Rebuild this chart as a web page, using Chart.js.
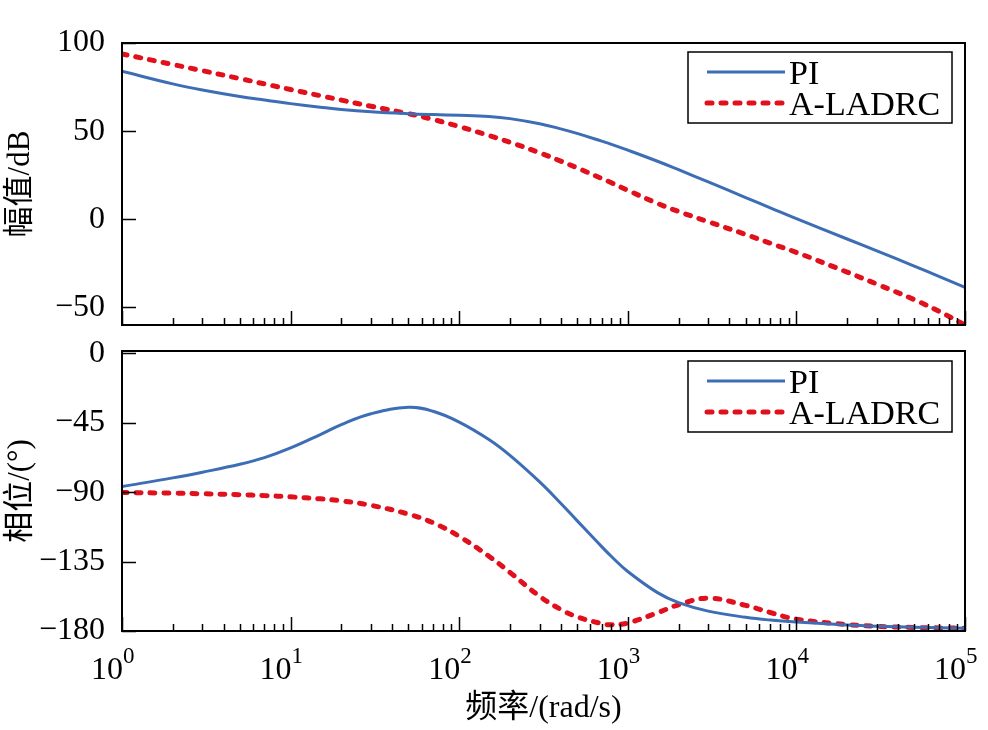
<!DOCTYPE html>
<html lang="zh">
<head>
    <meta charset="UTF-8">
    <title>Bode 图</title>
    <script src="https://cdn.jsdelivr.net/npm/chart.js"></script>
    <style>
        body { margin: 0; background: #fff; }
        #wrap { position: relative; width: 988px; height: 730px; }
        canvas { position: absolute; left: 0; }
        #magChart { top: 0; }
        #phaseChart { top: 340px; }
    </style>
</head>
<body>
<div id="wrap">
    <canvas id="magChart" width="988" height="340"></canvas>
    <canvas id="phaseChart" width="988" height="390"></canvas>
</div>
<script>
// 频率 (rad/s)
const freq = [1, 2, 3, 5, 7, 10, 15, 20, 30, 50, 70, 100, 150, 200, 300, 400, 500, 700, 800,
              1000, 1500, 2000, 3000, 5000, 7000, 1e4, 2e4, 3e4, 5e4, 7e4, 1e5];

// 幅值 dB
const magPI = [84, 76.8, 73.3, 69.6, 67.6, 65.6, 63.6, 62.3, 61, 59.9, 59.4, 59, 58.3, 57.1, 54.2, 51.3, 48.7, 44.3, 42.5,
               39.2, 32.9, 28.1, 21.2, 12.3, 6.5, 0.3, -11.2, -17.9, -26.6, -32.4, -38.6];
const magLADRC = [93.8, 87.8, 84.3, 79.8, 76.8, 73.6, 70.1, 67.6, 64.1, 59.9, 56.6, 52.6, 47.5, 43.7, 37.7, 33, 29.2, 23.1, 20.7,
                  16.4, 9, 4.4, -1.4, -8.6, -13.6, -18.8, -30, -36.8, -45.6, -52.2, -60];

// 相位 (°)
const phPI = [-86.3, -80.7, -77, -71.9, -67.6, -61.3, -52.6, -46.1, -39.1, -34.9, -37.5, -44.5, -55.8, -66.1, -83.3, -97.1, -108.4, -125.3, -131.7,
              -141.4, -155.1, -161.6, -167.1, -171.1, -172.9, -174.2, -176.1, -176.9, -177.6, -177.9, -178.2];
const phLADRC = [-90.2, -90.6, -91, -91.6, -92.2, -93, -94.3, -95.6, -98.5, -104.2, -109.8, -118.6, -131.5, -142, -157.5, -166, -170.8, -175.2, -176,
                 -174.8, -168.2, -163, -158.7, -163.4, -168, -172.3, -175.8, -177, -177.7, -178, -178.2];

const magTicks = [-50, 0, 50, 100];
const phTicks = [-180, -135, -90, -45, 0];
const decades = [0, 1, 2, 3, 4, 5];

const SERIF = "'Liberation Serif', 'Noto Sans CJK SC', serif";
const BLUE = '#3c6db5';
const RED = '#e0101c';

function pts(vals) {
    return freq.map((f, i) => ({ x: f, y: vals[i] }));
}

function minus(v) {
    return v < 0 ? '\u2212' + Math.abs(v) : String(v);
}

// 框线、向内刻度、图例、x 轴 10^n 标签
const bodeDeco = {
    id: 'bodeDeco',
    afterDraw(chart, args, opts) {
        const { ctx, chartArea: a, scales: { x, y } } = chart;
        ctx.save();
        ctx.strokeStyle = '#000';
        ctx.lineWidth = 1.5;
        ctx.beginPath();
        x.ticks.forEach(t => {
            const px = Math.round(x.getPixelForValue(t.value)) + 0.5;
            const lg = Math.log10(t.value);
            const len = Math.abs(lg - Math.round(lg)) < 1e-9 ? 14 : 7;
            ctx.moveTo(px, a.bottom);
            ctx.lineTo(px, a.bottom - len);
        });
        y.ticks.forEach(t => {
            const py = Math.round(y.getPixelForValue(t.value)) + 0.5;
            ctx.moveTo(a.left, py);
            ctx.lineTo(a.left + 14, py);
        });
        ctx.stroke();
        ctx.lineWidth = 2;
        ctx.strokeRect(a.left, a.top, a.right - a.left, a.bottom - a.top);

        // 图例
        const lx = a.right - 277, ly = a.top + opts.legendTop;
        ctx.fillStyle = '#fff';
        ctx.fillRect(lx, ly, 264, 71);
        ctx.lineWidth = 1.5;
        ctx.strokeRect(lx, ly, 264, 71);
        ctx.font = '34px ' + SERIF;
        ctx.textBaseline = 'alphabetic';
        chart.data.datasets.forEach((ds, i) => {
            const yy = ly + 20 + i * 31;
            ctx.save();
            ctx.strokeStyle = ds.borderColor;
            ctx.lineWidth = ds.borderWidth;
            ctx.lineCap = ds.borderCapStyle || 'butt';
            ctx.setLineDash(ds.borderDash || []);
            ctx.beginPath();
            ctx.moveTo(lx + 19, yy);
            ctx.lineTo(lx + 97, yy);
            ctx.stroke();
            ctx.restore();
            ctx.fillStyle = '#000';
            ctx.fillText(ds.label, lx + 101, yy + 12);
        });

        if (opts.xLabels) {
            ctx.fillStyle = '#000';
            decades.forEach(k => {
                const px = x.getPixelForValue(Math.pow(10, k));
                ctx.font = '32px ' + SERIF;
                const w = ctx.measureText('10').width;
                ctx.fillText('10', px - w + 1, a.bottom + 48);
                ctx.font = '23px ' + SERIF;
                ctx.fillText(String(k), px + 1, a.bottom + 32);
            });
        }
        ctx.restore();
    }
};

function logTicks(scale) {
    const t = [];
    for (let k = 0; k < 5; k++) {
        for (let m = 1; m < 10; m++) t.push({ value: m * Math.pow(10, k) });
    }
    t.push({ value: 1e5 });
    scale.ticks = t;
}

function makeChart(id, series, yOpts, deco) {
    return new Chart(document.getElementById(id), {
        type: 'line',
        data: {
            datasets: [{
                label: 'PI',
                data: pts(series[0]),
                borderColor: BLUE,
                borderWidth: 3,
                pointRadius: 0,
                tension: 0.4
            }, {
                label: 'A-LADRC',
                data: pts(series[1]),
                borderColor: RED,
                borderWidth: 5,
                borderDash: [5, 9],
                borderCapStyle: 'round',
                pointRadius: 0,
                tension: 0.4
            }]
        },
        options: {
            responsive: false,
            animation: false,
            devicePixelRatio: 1,
            layout: { padding: deco.padding },
            plugins: {
                legend: { display: false },
                tooltip: { enabled: false },
                bodeDeco: deco
            },
            scales: {
                x: {
                    type: 'logarithmic',
                    min: 1,
                    max: 1e5,
                    grid: { display: false },
                    border: { display: false },
                    ticks: { display: false },
                    afterBuildTicks: logTicks,
                    afterFit: s => {
                        s.height = deco.xHeight;
                        s.paddingLeft = 0;
                        s.paddingRight = 0;
                    },
                    title: {
                        display: deco.xLabels,
                        text: '频率/(rad/s)',
                        color: '#000',
                        font: { family: SERIF, size: 32 },
                        padding: { top: 0, bottom: 2 }
                    }
                },
                y: {
                    min: yOpts.min,
                    max: yOpts.max,
                    grid: { display: false },
                    border: { display: false },
                    afterBuildTicks: s => { s.ticks = yOpts.ticks.map(v => ({ value: v })); },
                    afterFit: s => {
                        s.width = 122;
                        s.paddingTop = 0;
                        s.paddingBottom = 0;
                    },
                    ticks: {
                        color: '#000',
                        padding: 9,
                        font: { family: SERIF, size: 32 },
                        callback: v => minus(v)
                    },
                    title: {
                        display: true,
                        text: yOpts.title,
                        color: '#000',
                        font: { family: SERIF, size: 31 },
                        padding: { top: 2, bottom: 0 }
                    }
                }
            }
        },
        plugins: [bodeDeco]
    });
}

makeChart('magChart', [magPI, magLADRC],
    { min: -60, max: 100, ticks: magTicks, title: '幅值/dB' },
    { padding: { top: 43, right: 23, left: 0, bottom: 0 }, xHeight: 15, legendTop: 9, xLabels: false });

makeChart('phaseChart', [phPI, phLADRC],
    { min: -180, max: 1.6, ticks: phTicks, title: '相位/(°)' },
    { padding: { top: 11, right: 23, left: 0, bottom: 0 }, xHeight: 99, legendTop: 10, xLabels: true });
</script>
</body>
</html>
